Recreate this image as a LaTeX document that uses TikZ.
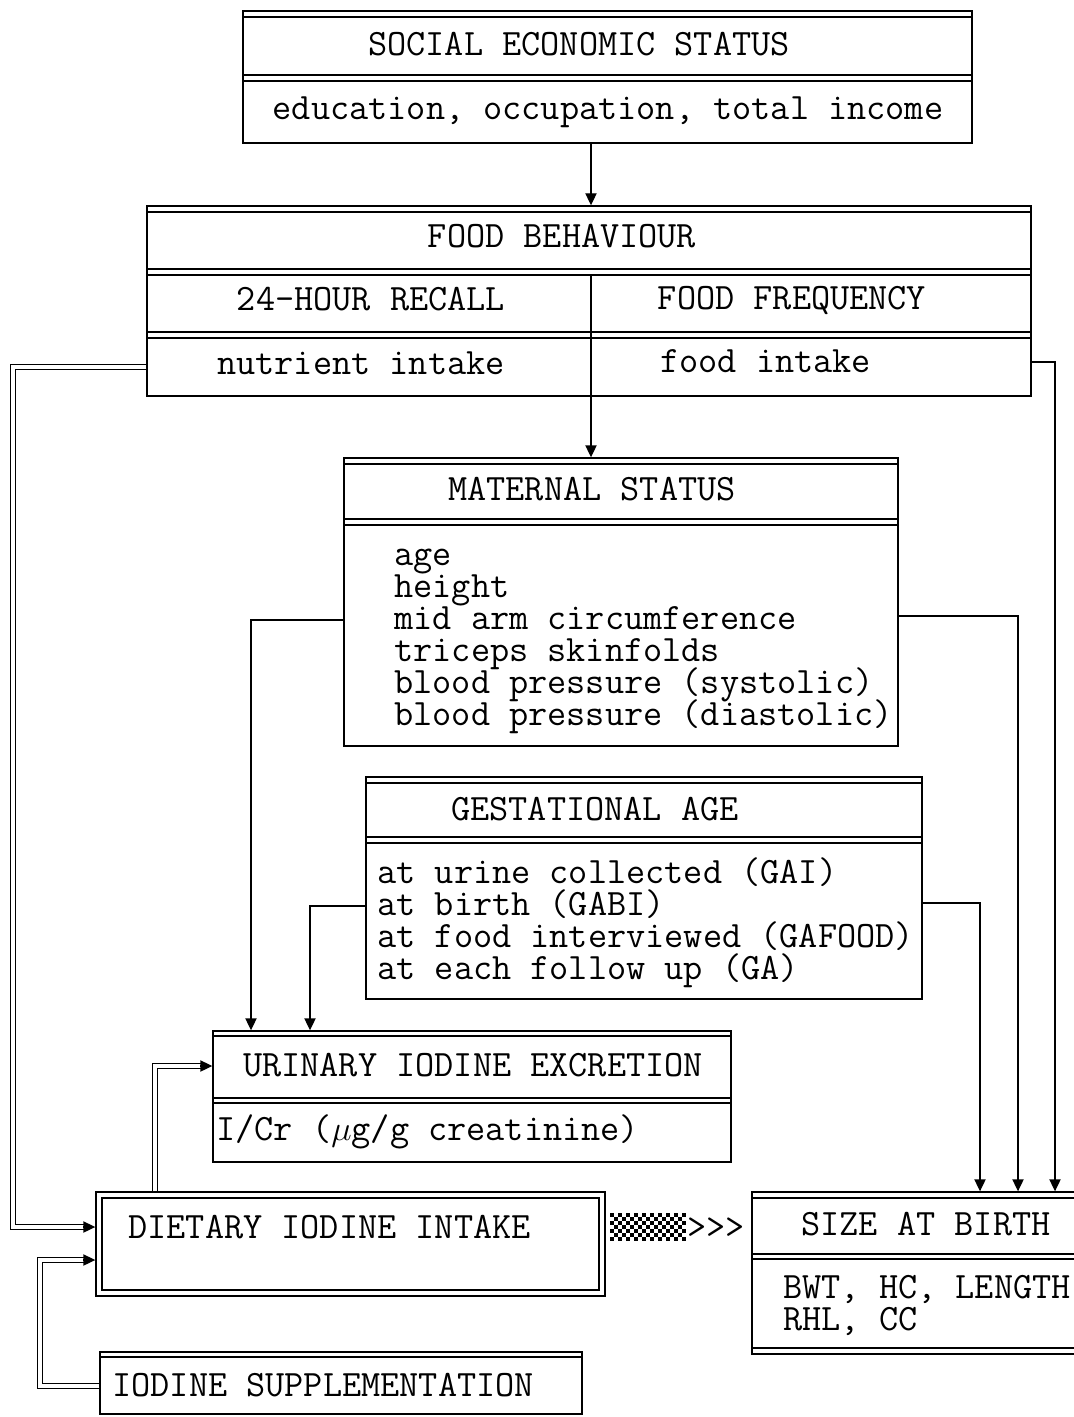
\documentclass[tikz,border=0pt]{standalone}
\usepackage{fontspec}
\usetikzlibrary{arrows.meta,fit}
\tikzset{
  bx/.style={draw, line width=0.7pt, inner sep=0pt, rectangle},
  inl/.style={line width=1.1pt},
  sepl/.style={line width=0.8pt},
  txt/.style={inner sep=0pt, font=\fontsize{18.6}{16}\selectfont\ttfamily},
  arr/.style={line width=0.7pt, -{Triangle[length=6pt,width=5.6pt]}},
  dbl/.style={line width=0.7pt, double=white, double distance=2pt},
}
\begin{document}
\begin{tikzpicture}[x=0.5pt,y=-0.5pt]
\useasboundingbox (0,0) rectangle (1074,1417);
\clip (0,0) rectangle (1074,1417);
\fill[white] (0,0) rectangle (1074,1417);

% ---------- SOCIAL ECONOMIC STATUS
\node[bx, fit={(243,11) (972,143)}] (ses) {};
\draw[inl] (243,17) -- (972,17);
\draw[sepl] (243,75) -- (972,75);
\draw[sepl] (243,81) -- (972,81);
\node[txt, anchor=base] (ses1) at (579,56) {SOCIAL ECONOMIC STATUS};
\node[txt, anchor=base] (ses2) at (608,120) {education, occupation, total income};

% ---------- FOOD BEHAVIOUR
\node[bx, fit={(147,206) (1031,396)}] (food) {};
\draw[inl] (147,212) -- (1031,212);
\draw[sepl] (147,269) -- (1031,269);
\draw[sepl] (147,275) -- (1031,275);
\draw[sepl] (147,332) -- (1031,332);
\draw[sepl] (147,338) -- (1031,338);
\coordinate (fdiv) at (591,275);
\draw[line width=0.7pt] (fdiv) -- (food.south -| fdiv);
\node[txt, anchor=base] (fb1) at (562,248) {FOOD BEHAVIOUR};
\node[txt, anchor=base] (fb2) at (371,311) {24-HOUR RECALL};
\node[txt, anchor=base] (fb3) at (792,310) {FOOD FREQUENCY};
\node[txt, anchor=base] (fb4) at (361,374) {nutrient intake};
\node[txt, anchor=base west] (fb5) at (660,372) {food intake};

% ---------- MATERNAL STATUS
\node[bx, fit={(344,458) (898,746)}] (mat) {};
\draw[inl] (344,464) -- (898,464);
\draw[sepl] (344,519) -- (898,519);
\draw[sepl] (344,525) -- (898,525);
\node[txt, anchor=base] (ms1) at (592,500) {MATERNAL STATUS};
\node[txt, anchor=base west] (ms2) at (394,565) {age};
\node[txt, anchor=base west] (ms3) at (394,597) {height};
\node[txt, anchor=base west] (ms4) at (394,629) {mid arm circumference};
\node[txt, anchor=base west] (ms5) at (394,661) {triceps skinfolds};
\node[txt, anchor=base west] (ms6) at (394,693) {blood pressure (systolic)};
\node[txt, anchor=base west] (ms7) at (394,725) {blood pressure (diastolic)};

% ---------- GESTATIONAL AGE
\node[bx, fit={(366,777) (922,999)}] (gest) {};
\draw[inl] (366,783) -- (922,783);
\draw[sepl] (366,837) -- (922,837);
\draw[sepl] (366,843) -- (922,843);
\node[txt, anchor=base] (ga1) at (595,820) {GESTATIONAL AGE};
\node[txt, anchor=base west] (ga2) at (377,883) {at urine collected (GAI)};
\node[txt, anchor=base west] (ga3) at (377,915) {at birth (GABI)};
\node[txt, anchor=base west] (ga4) at (377,947) {at food interviewed (GAFOOD)};
\node[txt, anchor=base west] (ga5) at (377,979) {at each follow up (GA)};

% ---------- URINARY IODINE EXCRETION
\node[bx, fit={(213,1031) (731,1162)}] (urin) {};
\draw[inl] (213,1036) -- (731,1036);
\draw[sepl] (213,1098) -- (731,1098);
\draw[sepl] (213,1103) -- (731,1103);
\node[txt, anchor=base] (ui1) at (473,1076) {URINARY IODINE EXCRETION};
\node[txt, anchor=base west] (ui2) at (216,1140) {I/Cr ($\mu$g/g creatinine)};

% ---------- DIETARY IODINE INTAKE
\node[bx, fit={(96,1192) (605,1296)}] (diet) {};
\draw[line width=0.9pt] (102,1198) rectangle (599,1290);
\node[txt, anchor=base west] (di1) at (128,1238) {DIETARY IODINE INTAKE};

% ---------- IODINE SUPPLEMENTATION
\node[bx, fit={(100,1352) (582,1414)}] (supp) {};
\draw[inl] (100,1357) -- (582,1357);
\node[txt, anchor=base west] (is1) at (112,1396) {IODINE SUPPLEMENTATION};

% ---------- SIZE AT BIRTH
\node[bx, fit={(752,1192) (1090,1354)}] (size) {};
\draw[inl] (752,1198) -- (1090,1198);
\draw[sepl] (752,1254) -- (1090,1254);
\draw[sepl] (752,1259) -- (1090,1259);
\draw[inl] (752,1348) -- (1090,1348);
\node[txt, anchor=base] (sb1) at (926,1235) {SIZE AT BIRTH};
\node[txt, anchor=base west] (sb2) at (783,1298) {BWT, HC, LENGTH};
\node[txt, anchor=base west] (sb3) at (783,1330) {RHL, CC};

% ---------- checkered arrow
\foreach \i in {0,...,18}{
  \foreach \j in {0,...,6}{
    \pgfmathtruncatemacro\kk{mod(\i+\j,2)}
    \ifnum\kk=0 \fill (610+4*\i,1213+4*\j) rectangle ++(4,4); \fi
  }
}
\node[txt, anchor=west] (gt) at (687,1228) {>{}>{}>};

% ---------- connectors
\draw[arr] (ses.south -| fdiv) -- (food.north -| fdiv);
\draw[arr] (food.south -| fdiv) -- (mat.north -| fdiv);

% food -> dietary (double)
\coordinate (a1) at (13,367);
\coordinate (a2) at (13,1227);
\draw[dbl] (food.west |- a1) -- (a1) -- (a2) -- ([xshift=-5pt]diet.west |- a2);
\draw[arr] ([xshift=-6pt]diet.west |- a2) -- (diet.west |- a2);

% supplementation -> dietary (double)
\coordinate (b1) at (40,1386);
\coordinate (b2) at (40,1260);
\draw[dbl] (supp.west |- b1) -- (b1) -- (b2) -- ([xshift=-5pt]diet.west |- b2);
\draw[arr] ([xshift=-6pt]diet.west |- b2) -- (diet.west |- b2);

% dietary -> urinary (double)
\coordinate (c1) at (155,1066);
\draw[dbl] (diet.north -| c1) -- (c1) -- ([xshift=-5pt]urin.west |- c1);
\draw[arr] ([xshift=-6pt]urin.west |- c1) -- (urin.west |- c1);

% maternal / gestational -> urinary
\coordinate (d1) at (251,620);
\draw[arr] (mat.west |- d1) -- (d1) -- (urin.north -| d1);
\coordinate (e1) at (310,906);
\draw[arr] (gest.west |- e1) -- (e1) -- (urin.north -| e1);

% -> size at birth
\coordinate (f1) at (1018,616);
\draw[arr] (mat.east |- f1) -- (f1) -- (size.north -| f1);
\coordinate (g1) at (980,903);
\draw[arr] (gest.east |- g1) -- (g1) -- (size.north -| g1);
\coordinate (h1) at (1055,362);
\draw[arr] (food.east |- h1) -- (h1) -- (size.north -| h1);
\end{tikzpicture}
\end{document}
